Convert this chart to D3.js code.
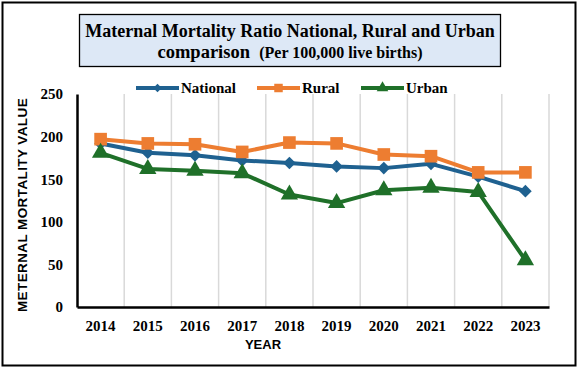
<!DOCTYPE html>
<html>
<head>
<meta charset="utf-8">
<script src="https://cdn.jsdelivr.net/npm/d3@7"></script>
<style>
body { margin: 0; background: #fff; }
svg { display: block; }
</style>
</head>
<body>
<svg id="chart" width="579" height="369"></svg>
<script>
var years = ["2014", "2015", "2016", "2017", "2018", "2019", "2020", "2021", "2022", "2023"];
var national = [192, 181, 178, 172, 169, 165, 163, 168, 153, 136];
var rural = [197, 192, 191, 182, 193, 192, 179, 177, 158, 158];
var urban = [181, 162, 160, 157, 132, 122, 137, 140, 135, 55];
var yTicks = [0, 50, 100, 150, 200, 250];

// diamond = square turned 45 degrees
var series = [
	{ name: "National", values: national, color: "#1f6190", symbol: d3.symbolSquare, size: 80, rot: 45 },
	{ name: "Rural", values: rural, color: "#ed7d31", symbol: d3.symbolSquare, size: 160, rot: 0 },
	{ name: "Urban", values: urban, color: "#1f7029", symbol: d3.symbolTriangle, size: 130, rot: 0 }
];

var svg = d3.select("#chart");
var plotL = 77, plotR = 549, plotT = 94, plotB = 307;

// outer frame
svg.append("rect").attr("x", 2.5).attr("y", 2.5).attr("width", 573).attr("height", 363)
	.attr("fill", "#fff").attr("stroke", "#000").attr("stroke-width", 2);

// title box
svg.append("rect").attr("x", 79.5).attr("y", 14.5).attr("width", 421).attr("height", 52)
	.attr("fill", "#dde8f6").attr("stroke", "#000").attr("stroke-width", 1.3);
var title = svg.append("text").attr("font-family", "Liberation Serif, Times New Roman, serif")
	.attr("font-weight", "bold").attr("text-anchor", "middle").attr("fill", "#000");
title.append("tspan").attr("x", 290).attr("y", 37).attr("font-size", 18)
	.text("Maternal Mortality Ratio National, Rural and Urban");
var t2 = title.append("tspan").attr("x", 290).attr("y", 58).attr("font-size", 18.5);
t2.append("tspan").text("comparison\u00a0\u00a0");
t2.append("tspan").attr("font-size", 16).text("(Per 100,000 live births)");

var x = d3.scaleBand().domain(years).range([plotL, plotR]);
var y = d3.scaleLinear().domain([0, 250]).range([plotB, plotT]);

// vertical gridlines at category boundaries
svg.append("g").selectAll("line").data(years).join("line")
	.attr("x1", function(d) { return x(d) + x.step(); })
	.attr("x2", function(d) { return x(d) + x.step(); })
	.attr("y1", plotT).attr("y2", plotB)
	.attr("stroke", "#d9d9d9").attr("stroke-width", 1.5);

// axes
var yAxis = svg.append("g").attr("transform", "translate(" + plotL + ",0)")
	.call(d3.axisLeft(y).tickValues(yTicks).tickSize(0).tickPadding(14));
yAxis.select(".domain").attr("stroke", "#000").attr("stroke-width", 2.5);
yAxis.selectAll("text").attr("font-family", "Liberation Serif, Times New Roman, serif")
	.attr("font-weight", "bold").attr("font-size", 15).attr("fill", "#000");

var xAxis = svg.append("g").attr("transform", "translate(0," + plotB + ")")
	.call(d3.axisBottom(x).tickSize(0).tickPadding(13));
xAxis.select(".domain").attr("stroke", "#000").attr("stroke-width", 2.5);
xAxis.selectAll("text").attr("font-family", "Liberation Serif, Times New Roman, serif")
	.attr("font-weight", "bold").attr("font-size", 15).attr("fill", "#000");

// axis titles
svg.append("text").attr("x", 263).attr("y", 349).attr("text-anchor", "middle")
	.attr("font-family", "Liberation Sans, Arial, sans-serif").attr("font-weight", "bold")
	.attr("font-size", 13).text("YEAR");
svg.append("text").attr("transform", "translate(27,205) rotate(-90)").attr("text-anchor", "middle")
	.attr("font-family", "Liberation Sans, Arial, sans-serif").attr("font-weight", "bold")
	.attr("font-size", 13.5).attr("letter-spacing", 0.4).text("METERNAL MORTALITY VALUE");

// lines and markers
var line = d3.line()
	.x(function(d, i) { return x(years[i]) + x.bandwidth() / 2; })
	.y(function(d) { return y(d); });

series.forEach(function(s) {
	svg.append("path").datum(s.values).attr("d", line)
		.attr("fill", "none").attr("stroke", s.color).attr("stroke-width", 4)
		.attr("stroke-linejoin", "round");
	svg.append("g").selectAll("path").data(s.values).join("path")
		.attr("d", d3.symbol().type(s.symbol).size(s.size))
		.attr("transform", function(d, i) {
			return "translate(" + (x(years[i]) + x.bandwidth() / 2) + "," + y(d) + ") rotate(" + s.rot + ")";
		})
		.attr("fill", s.color);
});

// legend
var legendPos = [136, 257, 361];
series.forEach(function(s, i) {
	var g = svg.append("g").attr("transform", "translate(" + legendPos[i] + ",88)");
	g.append("line").attr("x1", 0).attr("x2", 43).attr("y1", 0).attr("y2", 0)
		.attr("stroke", s.color).attr("stroke-width", 4);
	g.append("path").attr("d", d3.symbol().type(s.symbol).size(s.size * 0.45))
		.attr("transform", "translate(21.5,0) rotate(" + s.rot + ")").attr("fill", s.color);
	g.append("text").attr("x", 45).attr("y", 5).attr("font-family", "Liberation Serif, Times New Roman, serif")
		.attr("font-weight", "bold").attr("font-size", 15).text(s.name);
});
</script>
</body>
</html>
